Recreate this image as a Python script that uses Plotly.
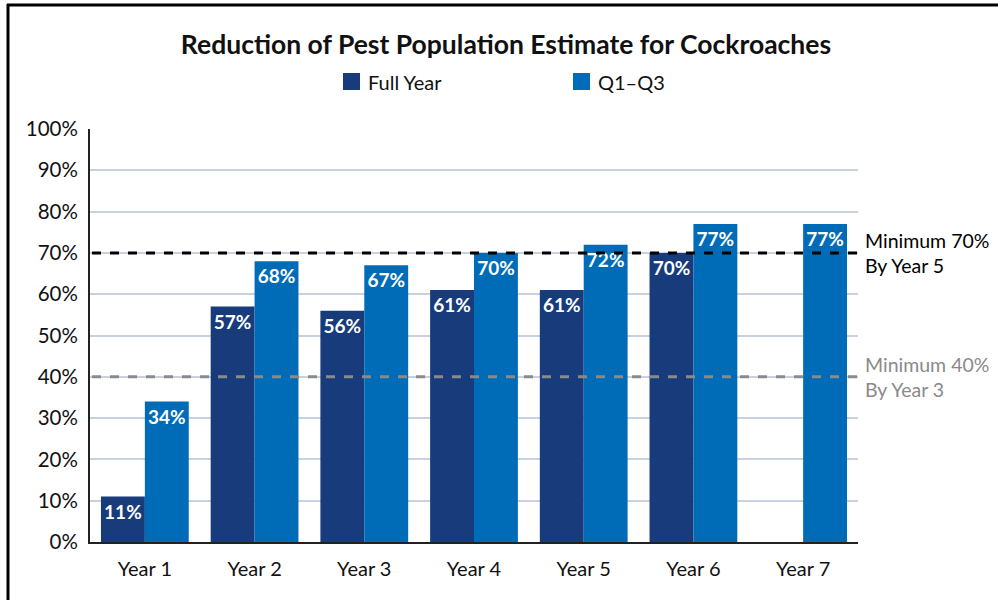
import plotly.graph_objects as go

years = ["Year 1", "Year 2", "Year 3", "Year 4", "Year 5", "Year 6", "Year 7"]
full_year = [11, 57, 56, 61, 61, 70, None]
q1_q3 = [34, 68, 67, 70, 72, 77, 77]
series_names = ["Full Year", "Q1\u2013Q3"]
y_ticks = [0, 10, 20, 30, 40, 50, 60, 70, 80, 90, 100]
targets = [70, 40]
target_labels = ["Minimum 70%<br>By Year 5", "Minimum 40%<br>By Year 3"]
target_colors = ["#000000", "#8a8a8a"]

FONT = "Lato"
NAVY = "#173b7b"
BLUE = "#006bb6"
colors = [NAVY, BLUE]

# plot area in pixels (used to place paper-referenced decorations)
L, R, T, B = 90, 140, 129, 58
W, H = 998, 600
PW, PH = W - L - R, H - T - B


def px(x):
    return (x - L) / PW


def py(y):
    return (H - B - y) / PH


def labels(vals):
    return [f"{v}%" if v is not None else "" for v in vals]


fig = go.Figure()
for name, vals, col in zip(series_names, [full_year, q1_q3], colors):
    fig.add_trace(go.Bar(
        name=name, x=years, y=vals, marker=dict(color=col, line=dict(width=0)),
        text=labels(vals), textposition="inside", insidetextanchor="end",
        textfont=dict(family=FONT, size=19, color="white", weight="bold"),
        textangle=0, showlegend=False,
    ))

for val, txt, col in zip(targets, target_labels, target_colors):
    fig.add_shape(type="line", xref="paper", yref="y", x0=px(92), x1=px(863),
                  y0=val, y1=val, line=dict(color=col, width=3, dash="dash"),
                  layer="above")
    fig.add_annotation(xref="paper", yref="y", x=px(863), y=val, text=txt,
                       showarrow=False, xanchor="left", yanchor="middle",
                       align="left", font=dict(family=FONT, size=19.5, color=col))

# legend swatches and names
for name, col, x0 in zip(series_names, colors, [343, 573]):
    fig.add_shape(type="rect", xref="paper", yref="paper",
                  x0=px(x0), x1=px(x0 + 17), y0=py(90), y1=py(73),
                  fillcolor=col, line=dict(width=0))
    fig.add_annotation(xref="paper", yref="paper", x=px(x0 + 23), y=py(82),
                       text=name, showarrow=False, xanchor="left",
                       yanchor="middle",
                       font=dict(family=FONT, size=20, color="#111111"))

# frame lines along the top and left edges
fig.add_shape(type="line", xref="paper", yref="paper", x0=px(7), x1=px(1000),
              y0=py(5), y1=py(5), line=dict(color="#000000", width=3))
fig.add_shape(type="line", xref="paper", yref="paper", x0=px(8), x1=px(8),
              y0=py(610), y1=py(4), line=dict(color="#000000", width=3))

fig.update_layout(
    width=W, height=H,
    margin=dict(l=L, r=R, t=T, b=B),
    paper_bgcolor="white", plot_bgcolor="white",
    barmode="group", bargap=0.2, bargroupgap=0,
    title=dict(text="Reduction of Pest Population Estimate for Cockroaches",
               x=0.507, xanchor="center", y=1 - 45 / H, yanchor="middle",
               font=dict(family=FONT, size=26.5, color="#111111", weight="bold")),
    showlegend=False,
    font=dict(family=FONT, color="#111111"),
    uniformtext=dict(mode="show", minsize=10),
)
fig.update_xaxes(showline=True, linecolor="#222222", linewidth=2,
                 showgrid=False, ticks="", ticklen=0, ticklabelstandoff=8,
                 tickfont=dict(family=FONT, size=20, color="#111111"))
fig.update_yaxes(range=[0, 100], tickvals=y_ticks,
                 ticktext=[f"{t}%" for t in y_ticks],
                 showline=True, linecolor="#222222", linewidth=2,
                 showgrid=True, gridcolor="#c8d1e0", gridwidth=2,
                 zeroline=False, ticks="", ticklabelstandoff=6,
                 tickfont=dict(family=FONT, size=20.5, color="#111111"))

fig.write_html("out.html")
